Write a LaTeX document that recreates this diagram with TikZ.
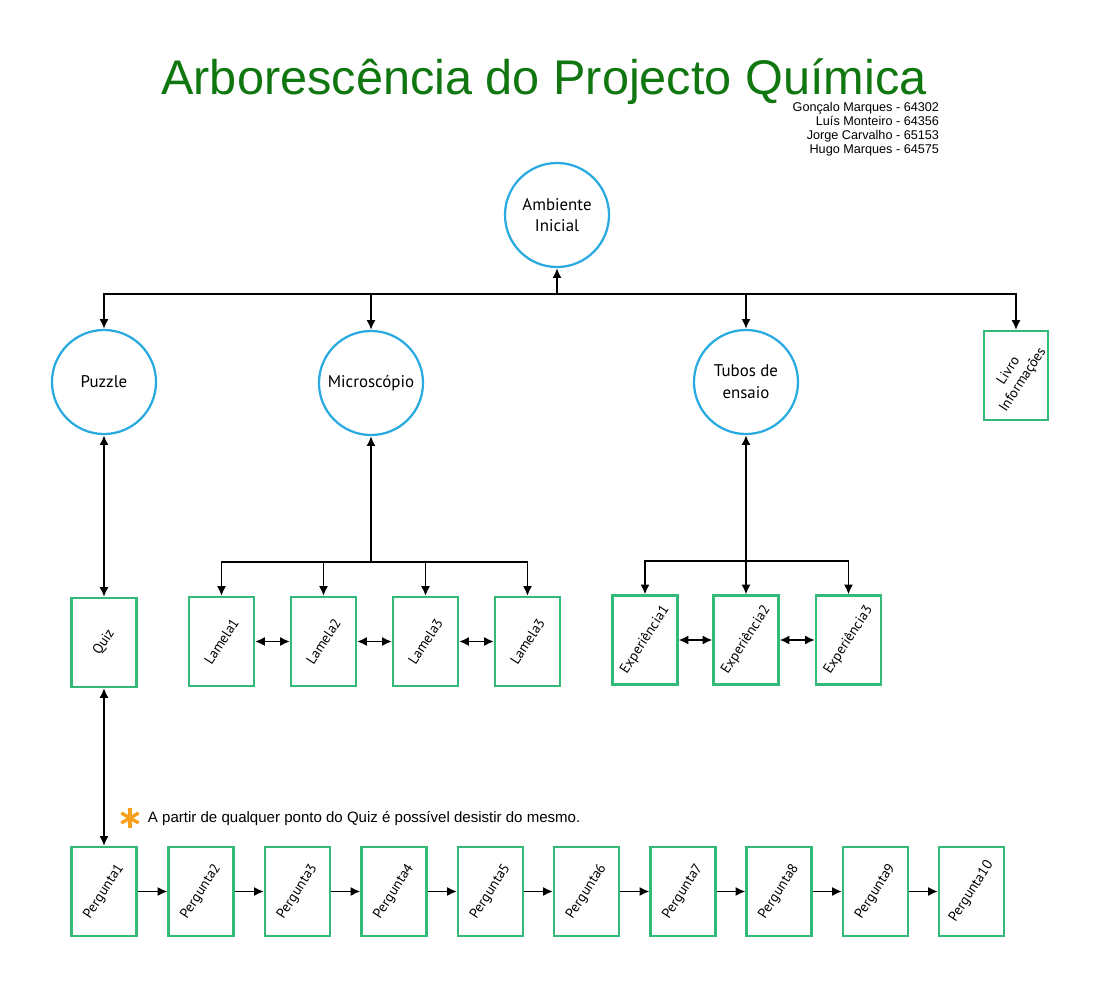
\documentclass[tikz,border=0pt]{standalone}
\usepackage{fontspec}
\usetikzlibrary{arrows.meta}
\setmainfont{Liberation Sans}
\newfontfamily\lblfont{PT Sans}
\definecolor{circblue}{RGB}{41,171,226}
\definecolor{boxgreen}{RGB}{51,186,120}
\definecolor{titlegreen}{RGB}{16,118,16}
\definecolor{starorange}{RGB}{247,160,30}

\begin{document}
\begin{tikzpicture}[x=0.025cm, y=-0.025cm,
  circ/.style={shape=circle, draw=circblue, line width=1.6pt, minimum size=2.6cm, inner sep=0pt, align=center, font=\lblfont\fontsize{12}{15.5}\selectfont},
  lbl/.style={rotate=57, font=\lblfont\fontsize{10}{12}\selectfont, align=center},
  box/.style={shape=rectangle, draw=boxgreen, line width=1.5pt, minimum width=1.625cm, minimum height=2.225cm, inner sep=0pt, label={[lbl]center:#1}},
  link/.style={line width=1.3pt, >={Latex[length=7pt,width=6.5pt]}}]
\useasboundingbox (0,0) rectangle (1100,1000);

% title
\node[font=\fontsize{34.6}{40}\selectfont, text=titlegreen](title) at (544,82) {Arborescência do Projecto Química};
\node[anchor=north east, align=right, font=\fontsize{9}{10}\selectfont](authors) at (944,97) {Gonçalo Marques - 64302\\Luís Monteiro - 64356\\Jorge Carvalho - 65153\\Hugo Marques - 64575};

% circles
\node[circ](amb) at (557,215) {Ambiente\\Inicial};
\node[circ](puzzle) at (104,382) {Puzzle};
\node[circ](micro) at (371,383) {Microscópio};
\node[circ](tubos) at (746,382) {Tubos de\\ensaio};
\node[box={Livro\\Informações}, minimum width=1.6cm](livro) at (1016,375.5) {};

% boxes
\node[box=Quiz](quiz) at (104,642.5) {};
\node[box=Lamela1](lam1) at (221.5,641.5) {};
\node[box=Lamela2](lam2) at (323.5,641.5) {};
\node[box=Lamela3](lam3) at (425.5,641.5) {};
\node[box=Lamela3](lam4) at (527.5,641.5) {};
\node[box=Experiência1](exp1) at (645,640) {};
\node[box=Experiência2](exp2) at (746,640) {};
\node[box=Experiência3](exp3) at (848.5,640) {};

\node[box=Pergunta1](p1) at (104,891.5) {};
\node[box=Pergunta2](p2) at (201,891.5) {};
\node[box=Pergunta3](p3) at (297.5,891.5) {};
\node[box=Pergunta4](p4) at (394,891.5) {};
\node[box=Pergunta5](p5) at (490.5,891.5) {};
\node[box=Pergunta6](p6) at (586.5,891.5) {};
\node[box=Pergunta7](p7) at (683,891.5) {};
\node[box=Pergunta8](p8) at (779,891.5) {};
\node[box=Pergunta9](p9) at (875.5,891.5) {};
\node[box=Pergunta10](p10) at (971.5,891.5) {};

% note
\coordinate (ast) at (130,818);
\foreach \a in {90,30,150} \draw[starorange, line width=2.4pt] (ast) +(\a:10) -- +(\a+180:10);
\node[anchor=west, font=\fontsize{10.7}{12}\selectfont](note) at (143,819) {A partir de qualquer ponto do Quiz é possível desistir do mesmo.};

% top level
\coordinate (bus) at (557,294);
\draw[link,->] (bus) -- (amb);
\draw[link,->] (bus) -| (puzzle);
\draw[link,->] (bus) -| (micro);
\draw[link,->] (bus) -| (tubos);
\draw[link,->] (bus) -| (livro);

% microscopio
\coordinate (mjoin) at (371,562);
\draw[link,->] (mjoin) -- (micro);
\draw[link,->] (mjoin) -| (lam1);
\draw[link,->] (mjoin) -| (lam2);
\draw[link,->] (mjoin) -| (lam3);
\draw[link,->] (mjoin) -| (lam4);
\path[link,<->] (lam1) edge (lam2);
\path[link,<->] (lam2) edge (lam3);
\path[link,<->] (lam3) edge (lam4);

% tubos
\coordinate (tjoin) at (746,561);
\draw[link,<->] (tubos) -- (exp2);
\draw[link,->] (tjoin) -| (exp1);
\draw[link,->] (tjoin) -| (exp3);
\path[link,<->] (exp1) edge (exp2);
\path[link,<->] (exp2) edge (exp3);

% quiz
\draw[link,<->] (puzzle) -- (quiz);
\draw[link,<->] (quiz) -- (p1);
\path[link,->] (p1) edge (p2);
\path[link,->] (p2) edge (p3);
\path[link,->] (p3) edge (p4);
\path[link,->] (p4) edge (p5);
\path[link,->] (p5) edge (p6);
\path[link,->] (p6) edge (p7);
\path[link,->] (p7) edge (p8);
\path[link,->] (p8) edge (p9);
\path[link,->] (p9) edge (p10);
\end{tikzpicture}
\end{document}
